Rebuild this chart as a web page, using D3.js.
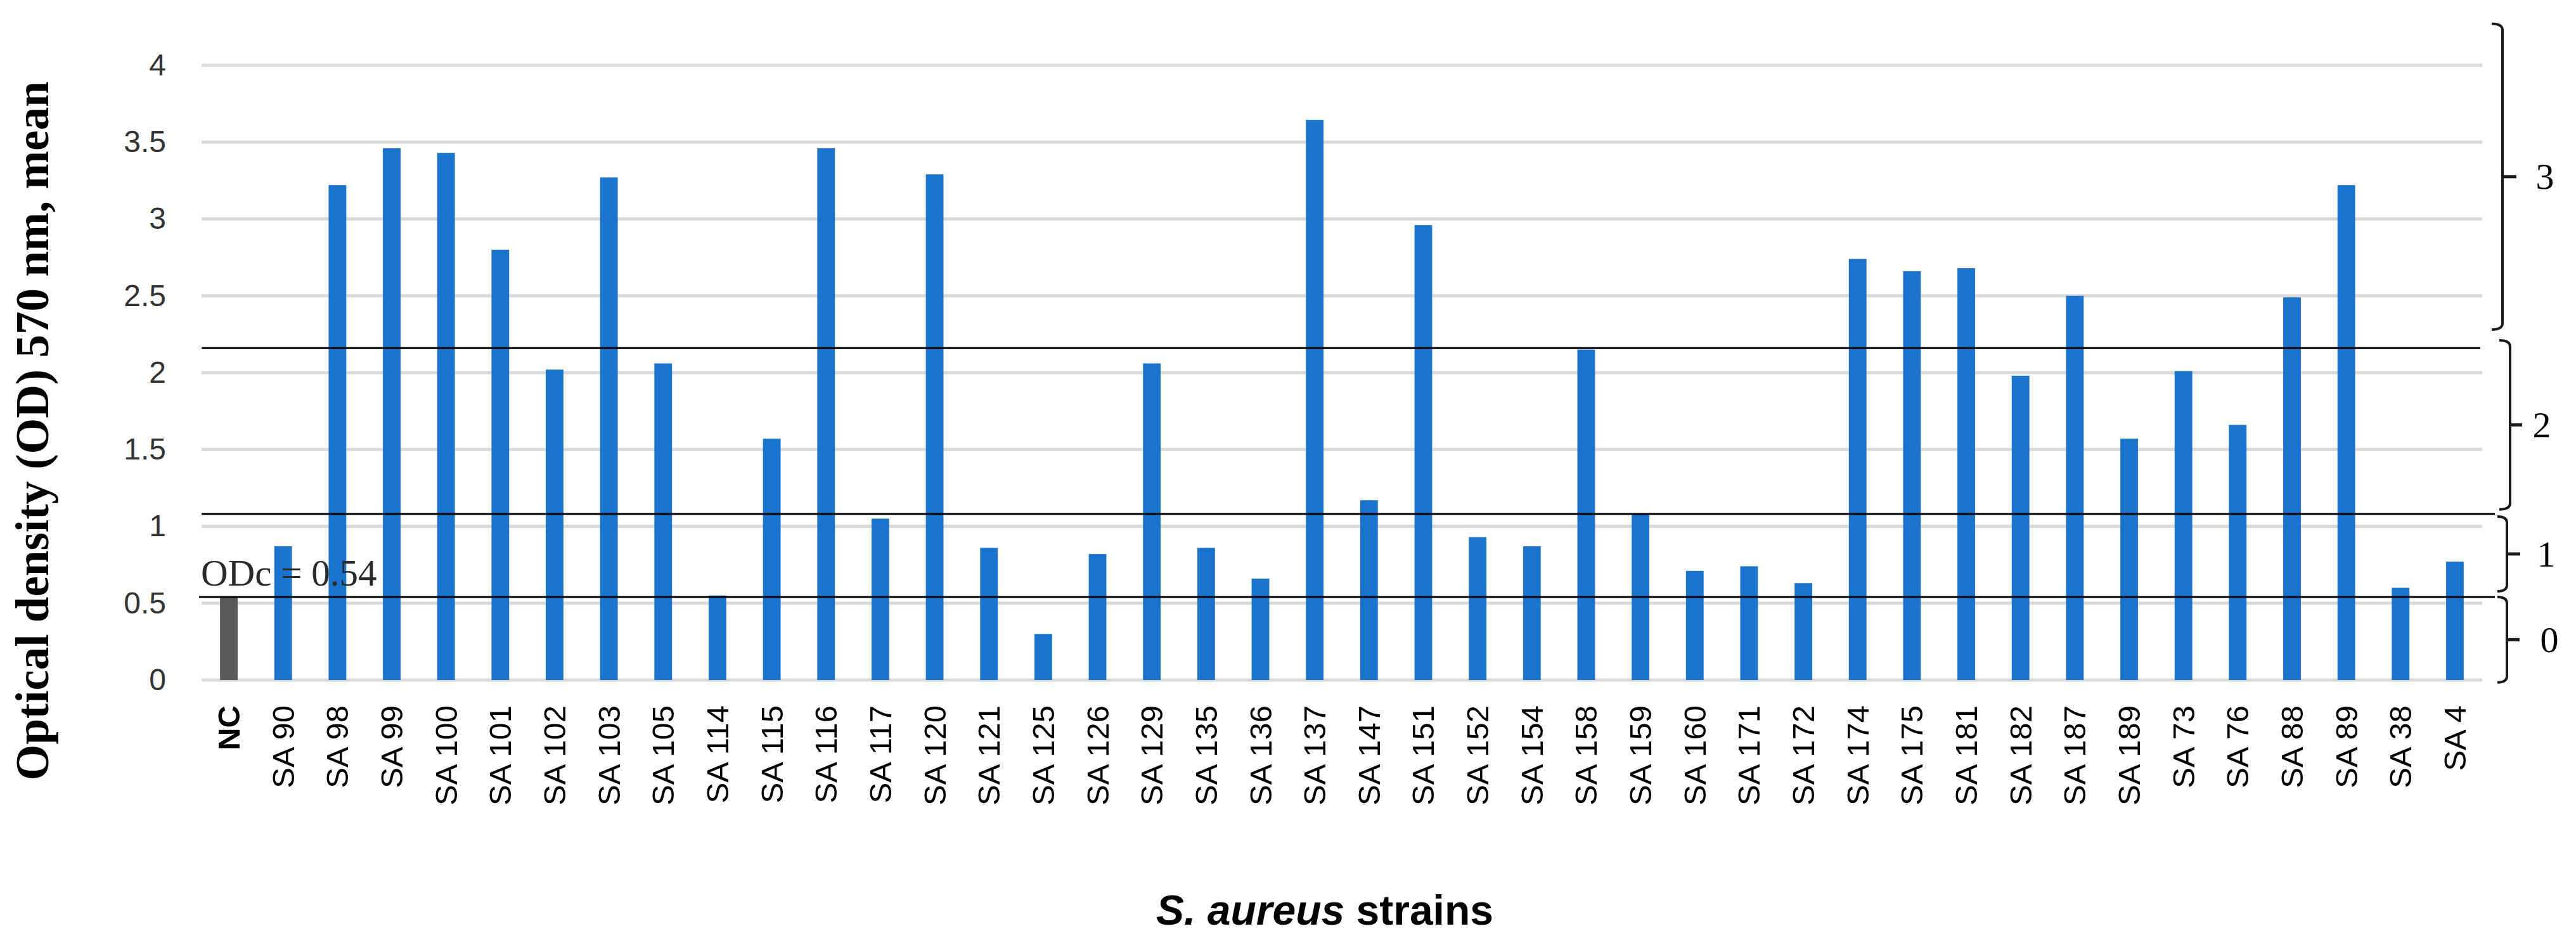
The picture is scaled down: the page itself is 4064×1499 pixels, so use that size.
<!DOCTYPE html>
<html>
<head>
<meta charset="utf-8">
<script src="https://cdn.jsdelivr.net/npm/d3@7/dist/d3.min.js"></script>
<style>
  html, body { margin: 0; padding: 0; background: #ffffff; }
  svg { display: block; }
</style>
</head>
<body>
<div id="chart"></div>
<script>
// ---- data ----
const categories = ["NC","SA 90","SA 98","SA 99","SA 100","SA 101","SA 102","SA 103","SA 105","SA 114",
  "SA 115","SA 116","SA 117","SA 120","SA 121","SA 125","SA 126","SA 129","SA 135","SA 136",
  "SA 137","SA 147","SA 151","SA 152","SA 154","SA 158","SA 159","SA 160","SA 171","SA 172",
  "SA 174","SA 175","SA 181","SA 182","SA 187","SA 189","SA 73","SA 76","SA 88","SA 89","SA 38","SA 4"];
const values = [0.54,0.87,3.22,3.46,3.43,2.80,2.02,3.27,2.06,0.55,
  1.57,3.46,1.05,3.29,0.86,0.30,0.82,2.06,0.86,0.66,
  3.645,1.17,2.96,0.93,0.87,2.15,1.08,0.71,0.74,0.63,
  2.74,2.66,2.68,1.98,2.50,1.57,2.01,1.66,2.49,3.22,0.60,0.77];
const yTicks = [0,0.5,1,1.5,2,2.5,3,3.5,4];
const thresholds = [0.54, 1.08, 2.16];           // ODc, 2xODc, 4xODc
const odcLabel = "ODc = 0.54";
const braceLabels = ["3","2","1","0"];
const braceRanges = [[2.28,4.27],[1.11,2.21],[0.577,1.064],[-0.015,0.54]];
const yTitle = "Optical density (OD) 570 nm, mean";

// ---- layout ----
const W = 4064, H = 1499;
const plot = {left: 318, right: 3916, top: 103, bottom: 1073};

const svg = d3.select("#chart").append("svg")
  .attr("width", W).attr("height", H)
  .style("background", "#ffffff");

const x = d3.scaleBand().domain(categories).range([plot.left, plot.right]).paddingInner(0.675).paddingOuter(0.34);
const y = d3.scaleLinear().domain([0, 4]).range([plot.bottom, plot.top]);

// gridlines
svg.append("g").selectAll("line").data(yTicks).join("line")
  .attr("x1", plot.left).attr("x2", plot.right)
  .attr("y1", d => y(d)).attr("y2", d => y(d))
  .attr("stroke", "#d9d9d9").attr("stroke-width", 5);

// y-axis tick labels
const yAxis = d3.axisLeft(y).tickValues(yTicks).tickSize(0).tickPadding(0).tickFormat(d3.format("~g"));
const gy = svg.append("g").attr("transform", `translate(262,0)`).call(yAxis);
gy.select(".domain").remove();
gy.selectAll("text")
  .attr("font-family", "'Liberation Sans', Arial, sans-serif")
  .attr("font-size", 48)
  .attr("fill", "#333333");

// bars
svg.append("g").selectAll("rect").data(categories).join("rect")
  .attr("x", d => x(d))
  .attr("width", x.bandwidth())
  .attr("y", (d, i) => y(values[i]))
  .attr("height", (d, i) => y(0) - y(values[i]))
  .attr("fill", (d, i) => i === 0 ? "#595959" : "#1a73cc");

// threshold lines
const thrExtent = [[314, 3936],[318, 3936],[318, 3913]];
svg.append("g").selectAll("line").data(thresholds).join("line")
  .attr("x1", (d, i) => thrExtent[i][0]).attr("x2", (d, i) => thrExtent[i][1])
  .attr("y1", d => y(d)).attr("y2", d => y(d))
  .attr("stroke", "#000000").attr("stroke-width", 3);

// ODc label
svg.append("text")
  .attr("x", 317).attr("y", y(thresholds[0]) - 18)
  .attr("font-family", "'Liberation Serif', 'Times New Roman', serif")
  .attr("font-size", 59)
  .attr("fill", "#2a2a2a")
  .text(odcLabel);

// x labels
const gx = svg.append("g");
gx.selectAll("text").data(categories).join("text")
  .attr("transform", d => `translate(${x(d) + x.bandwidth() / 2},1113) rotate(-90)`)
  .attr("text-anchor", "end")
  .attr("dominant-baseline", "central")
  .attr("font-family", "'Liberation Sans', Arial, sans-serif")
  .attr("font-size", 49)
  .attr("font-weight", (d, i) => i === 0 ? "bold" : "normal")
  .attr("fill", "#000000")
  .text(d => d);

// y title
svg.append("text")
  .attr("transform", `translate(76,680) rotate(-90)`)
  .attr("text-anchor", "middle")
  .attr("font-family", "'Liberation Serif', 'Times New Roman', serif")
  .attr("font-size", 73)
  .attr("font-weight", "bold")
  .attr("fill", "#000000")
  .text(yTitle);

// x title
const xt = svg.append("text")
  .attr("x", 2090).attr("y", 1459)
  .attr("text-anchor", "middle")
  .attr("font-family", "'Liberation Sans', Arial, sans-serif")
  .attr("font-size", 66)
  .attr("font-weight", "bold")
  .attr("fill", "#000000");
xt.append("tspan").attr("font-style", "italic").text("S. aureus");
xt.append("tspan").text(" strains");

// braces (tip x, spine x, tick end x)
const braceX = [[3931, 3948, 3970],[3943, 3960, 3979],[3940, 3955, 3976],[3940, 3955, 3975]];
const braceLabelX = [4015, 4010, 4017, 4022];
function bracePath(xt, xs, y1, y2) {
  const r = Math.min(10, (y2 - y1) / 6);
  return `M${xt},${y1} Q${xs},${y1} ${xs},${y1 + r} L${xs},${y2 - r} Q${xs},${y2} ${xt},${y2}`;
}
const gb = svg.append("g");
braceRanges.forEach((r, i) => {
  const y1 = y(r[1]), y2 = y(r[0]);
  const ym = (y1 + y2) / 2;
  const bx = braceX[i];
  gb.append("path")
    .attr("d", bracePath(bx[0], bx[1], y1, y2))
    .attr("fill", "none").attr("stroke", "#1a1a1a").attr("stroke-width", 4);
  gb.append("line")
    .attr("x1", bx[1]).attr("x2", bx[2]).attr("y1", ym).attr("y2", ym)
    .attr("stroke", "#1a1a1a").attr("stroke-width", 5);
  gb.append("text")
    .attr("x", braceLabelX[i]).attr("y", ym)
    .attr("text-anchor", "middle").attr("dominant-baseline", "central")
    .attr("font-family", "'Liberation Serif', 'Times New Roman', serif")
    .attr("font-size", 58).attr("fill", "#000000")
    .text(braceLabels[i]);
});
</script>
</body>
</html>
